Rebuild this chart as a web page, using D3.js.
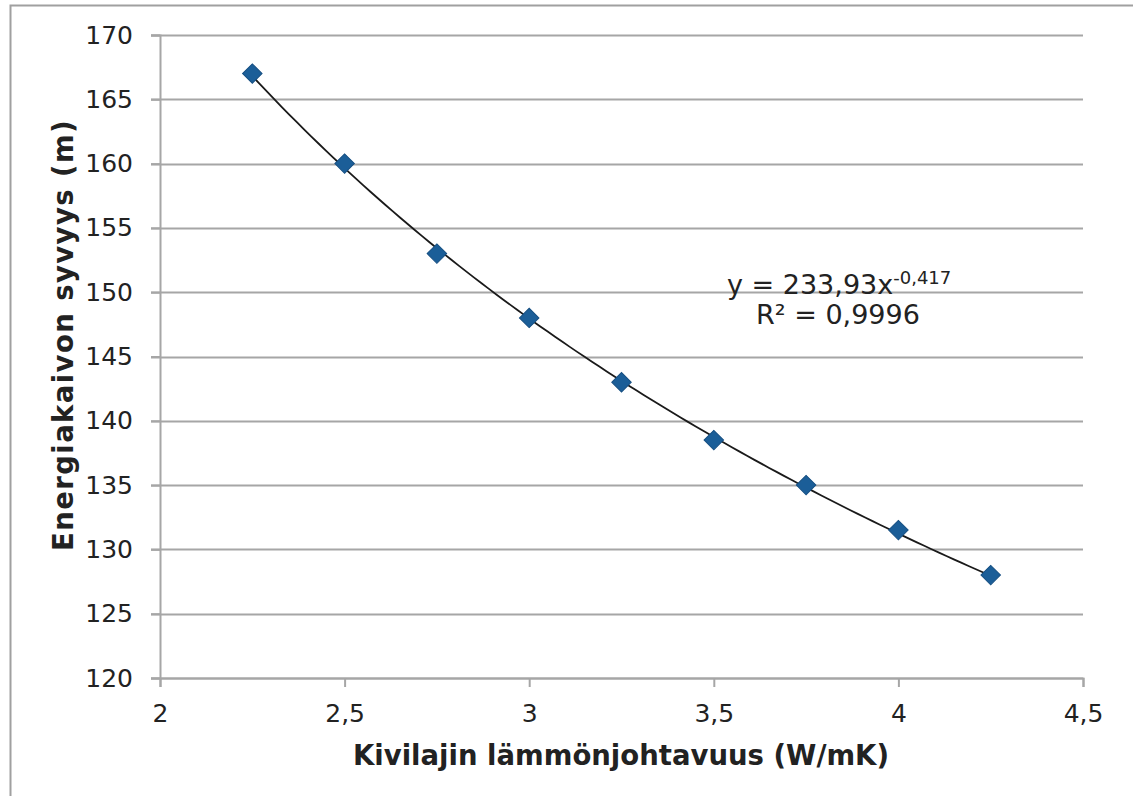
<!DOCTYPE html>
<html>
<head>
<meta charset="utf-8">
<script src="https://cdn.jsdelivr.net/npm/d3@7"></script>
<style>
  body { margin: 0; background: #fff; }
  svg text { font-family: "DejaVu Sans", Verdana, sans-serif; fill: #222; }
</style>
</head>
<body>
<div id="chart"></div>
<script>
// lämmönjohtavuus (W/mK) ja syvyys (m)
var lampo = [2.25, 2.5, 2.75, 3, 3.25, 3.5, 3.75, 4, 4.25];
var syvyys = [167, 160, 153, 148, 143, 138.5, 135, 131.5, 128];
var xTicks = [2, 2.5, 3, 3.5, 4, 4.5];
var yTicks = [120, 125, 130, 135, 140, 145, 150, 155, 160, 165, 170];
// trendiviivan kertoimet: y = a * x^b
var trendA = 233.93;
var trendB = -0.417;

var width = 1133, height = 796;
var margin = {left: 160, right: 50, top: 35, bottom: 118};

var svg = d3.select("#chart").append("svg")
    .attr("width", width)
    .attr("height", height);

// ulkoreunus
svg.append("rect")
    .attr("x", 10.5).attr("y", 5.5)
    .attr("width", width + 10).attr("height", height + 10)
    .attr("fill", "none")
    .attr("stroke", "#a0a0a0")
    .attr("stroke-width", 2);

var x = d3.scaleLinear().domain([2, 4.5]).range([margin.left, width - margin.right]);
var y = d3.scaleLinear().domain([120, 170]).range([height - margin.bottom, margin.top]);

var fmt = function(d){ return String(d).replace(".", ","); };

// vaakaviivat
svg.append("g").selectAll("line").data(yTicks)
    .enter().append("line")
    .attr("x1", margin.left - 9)
    .attr("x2", x(4.5))
    .attr("y1", function(d){ return Math.round(y(d)) + 0.5; })
    .attr("y2", function(d){ return Math.round(y(d)) + 0.5; })
    .attr("stroke", "#a6a6a6")
    .attr("stroke-width", 2);

// y-akseli
var yAxis = svg.append("g")
    .attr("transform", "translate(" + margin.left + ",0)")
    .call(d3.axisLeft(y).tickValues(yTicks).tickSize(9).tickPadding(18).tickFormat(fmt));
yAxis.select(".domain").attr("stroke", "#a6a6a6").attr("stroke-width", 2);
yAxis.selectAll(".tick line").attr("stroke", "#a6a6a6").attr("stroke-width", 2);
yAxis.selectAll("text").attr("font-size", "25px").style("fill", "#222");

// x-akseli
var xAxis = svg.append("g")
    .attr("transform", "translate(0," + y(120) + ")")
    .call(d3.axisBottom(x).tickValues(xTicks).tickSize(9).tickSizeOuter(9).tickPadding(17).tickFormat(fmt));
xAxis.select(".domain").attr("stroke", "#a6a6a6").attr("stroke-width", 2);
xAxis.selectAll(".tick line").attr("stroke", "#a6a6a6").attr("stroke-width", 2);
xAxis.selectAll("text").attr("font-size", "25px").style("fill", "#222");

// trendiviiva
var trend = d3.range(lampo[0], lampo[lampo.length - 1] + 0.001, 0.02).map(function(v){
    return [v, trendA * Math.pow(v, trendB)];
});
svg.append("path")
    .datum(trend)
    .attr("fill", "none")
    .attr("stroke", "#1a1a1a")
    .attr("stroke-width", 1.8)
    .attr("d", d3.line().x(function(d){ return x(d[0]); }).y(function(d){ return y(d[1]); }));

// pisteet
svg.append("g").selectAll("path").data(lampo)
    .enter().append("path")
    .attr("transform", function(d, i){ return "translate(" + x(d) + "," + y(syvyys[i]) + ") rotate(45)"; })
    .attr("d", d3.symbol().type(d3.symbolSquare).size(190))
    .attr("fill", "#1b5e98")
    .attr("stroke", "#164f82")
    .attr("stroke-width", 1);

// yhtälö
var eq = svg.append("text").attr("x", 727).attr("y", 294).attr("font-size", "27px");
eq.append("tspan").text("y = 233,93x");
eq.append("tspan").attr("dy", -10).attr("font-size", "18px").text("-0,417");
svg.append("text").attr("x", 838).attr("y", 324).attr("text-anchor", "middle")
    .attr("font-size", "27px").text("R² = 0,9996");

// akselien otsikot
svg.append("text")
    .attr("x", 621).attr("y", 765)
    .attr("text-anchor", "middle")
    .attr("font-size", "27.5px").attr("font-weight", "bold")
    .text("Kivilajin lämmönjohtavuus (W/mK)");
svg.append("text")
    .attr("transform", "translate(73,335) rotate(-90)")
    .attr("text-anchor", "middle")
    .attr("font-size", "27.5px").attr("font-weight", "bold")
    .attr("letter-spacing", "1.4px")
    .text("Energiakaivon syvyys (m)");
</script>
</body>
</html>
